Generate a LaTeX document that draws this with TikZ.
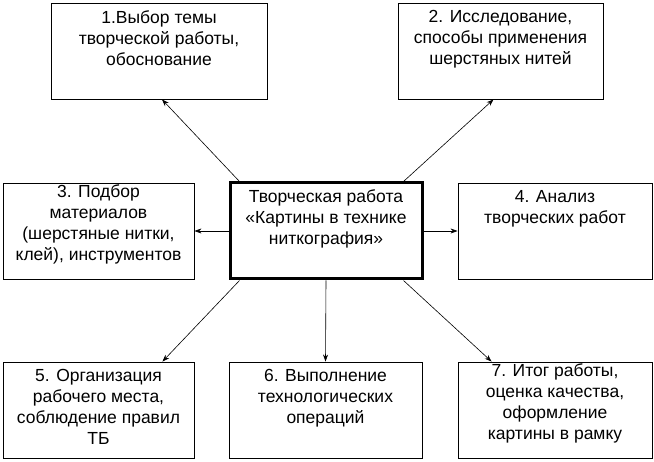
\documentclass[tikz,border=0pt]{standalone}
\usepackage{fontspec}
\setmainfont{Liberation Sans}
\usepackage{tikz}
\usetikzlibrary{arrows.meta}

\begin{document}
\begin{tikzpicture}[x=1pt,y=-1pt,
    box/.style={draw,rectangle,line width=0.9pt,minimum height=96pt,inner sep=0pt},
    mainbox/.style={box,line width=3pt},
    lbl/.style={anchor=north,align=center,inner sep=8pt,font=\fontsize{17.5}{21}\selectfont},
    arr/.style={-{Stealth[length=7pt,width=5pt]},line width=0.6pt}]
            \useasboundingbox (0,0) rectangle (654,462);
            \node[box,minimum width=216pt] (1) at (159,51) {};
            \node[box,minimum width=205pt] (2) at (500.5,51) {};
            \node[box,minimum width=191pt] (3) at (98.5,231) {};
            \node[mainbox,minimum width=192pt] (c) at (326,231) {};
            \node[box,minimum width=194pt] (4) at (555,231) {};
            \node[box,minimum width=191pt] (5) at (98.5,410) {};
            \node[box,minimum width=193pt] (6) at (325.5,410) {};
            \node[box,minimum width=194pt] (7) at (555,410) {};
            \node[lbl] (1t) at (1.north) {1.Выбор темы\\творческой работы,\\обоснование};
            \node[lbl] (2t) at (2.north) {2. Исследование,\\способы применения\\шерстяных нитей};
            \node[lbl,yshift=6pt] (3t) at (3.north) {3. Подбор\\материалов\\(шерстяные нитки,\\клей), инструментов};
            \node[lbl] (ct) at (c.north) {Творческая работа\\«Картины в технике\\ниткография»};
            \node[lbl] (4t) at (4.north) {4. Анализ\\творческих работ};
            \node[lbl] (5t) at (5.north) {5. Организация\\рабочего места,\\соблюдение правил\\ТБ};
            \node[lbl] (6t) at (6.north) {6. Выполнение\\технологических\\операций};
            \node[lbl,yshift=6pt] (7t) at (7.north) {7. Итог работы,\\оценка качества,\\оформление\\картины в рамку};
            \draw[arr] ([xshift=11pt]c.north west) -- ([xshift=3pt]1.south);
            \draw[arr] ([xshift=-20pt]c.north east) -- ([xshift=-7pt]2.south);
            \draw[arr] (c.west) -- (3.east);
            \draw[arr] (c.east) -- (4.west);
            \draw[arr] ([xshift=11pt]c.south west) -- ([xshift=-32pt]5.north east);
            \draw[arr] (c.south) -- (6.north);
            \draw[arr] ([xshift=-20pt]c.south east) -- ([xshift=34pt]7.north west);
        \end{tikzpicture}
\end{document}
